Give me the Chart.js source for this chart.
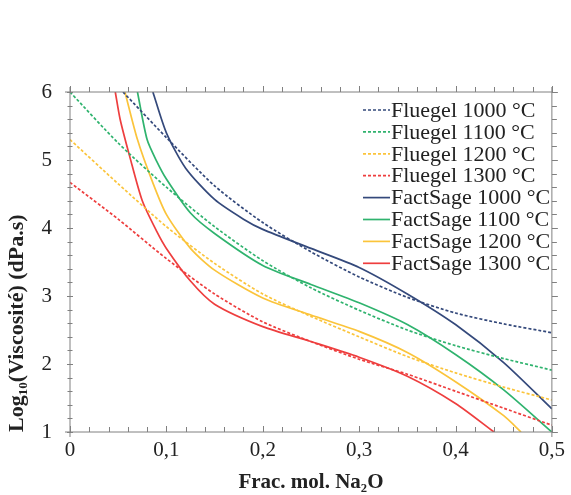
<!DOCTYPE html>
<html>
<head>
<meta charset="utf-8">
<script src="https://cdn.jsdelivr.net/npm/chart.js@4/dist/chart.umd.min.js"></script>
<style>
  html, body { margin: 0; padding: 0; background: #fff; }
  #wrap { width: 571px; height: 495px; }
</style>
</head>
<body>
<div id="wrap"><canvas id="viscoChart" width="571" height="495"></canvas></div>
<script>
// ---------- Data ----------
const xFull = [0, 0.05, 0.1, 0.15, 0.2, 0.25, 0.3, 0.35, 0.4, 0.45, 0.5];

const xFluegel1000 = [0.055, 0.1, 0.15, 0.2, 0.25, 0.3, 0.35, 0.4, 0.45, 0.5];
const fluegel1000 = [6, 5.33, 4.62, 4.08, 3.65, 3.28, 2.98, 2.75, 2.59, 2.46];
const fluegel1100 = [6, 5.25, 4.6, 4.02, 3.52, 3.12, 2.79, 2.5, 2.27, 2.08, 1.91];
const fluegel1200 = [5.3, 4.65, 4.02, 3.48, 3.03, 2.7, 2.4, 2.11, 1.87, 1.66, 1.47];
const fluegel1300 = [4.67, 4.13, 3.55, 3.03, 2.62, 2.33, 2.07, 1.85, 1.6, 1.35, 1.1];

const xFact1000 = [0.086, 0.1, 0.12, 0.15, 0.18, 0.2, 0.25, 0.3, 0.35, 0.4, 0.45, 0.5];
const factSage1000 = [6, 5.4, 4.88, 4.42, 4.13, 3.98, 3.7, 3.42, 3.03, 2.58, 2.02, 1.34];
const xFact1100 = [0.07, 0.08, 0.09, 0.1, 0.125, 0.15, 0.2, 0.25, 0.3, 0.35, 0.4, 0.45, 0.5];
const factSage1100 = [6, 5.3, 4.98, 4.72, 4.22, 3.92, 3.45, 3.17, 2.9, 2.58, 2.14, 1.62, 1.0];
const xFact1200 = [0.057, 0.07, 0.085, 0.1, 0.125, 0.15, 0.2, 0.25, 0.3, 0.35, 0.4, 0.45, 0.468];
const factSage1200 = [6, 5.3, 4.7, 4.2, 3.7, 3.38, 2.97, 2.72, 2.48, 2.17, 1.74, 1.24, 1.0];
const xFact1300 = [0.047, 0.052, 0.062, 0.075, 0.09, 0.1, 0.125, 0.15, 0.2, 0.25, 0.3, 0.35, 0.4, 0.44];
const factSage1300 = [6, 5.6, 5.05, 4.4, 3.95, 3.7, 3.22, 2.88, 2.55, 2.33, 2.1, 1.82, 1.42, 1.0];

const seriesLabels = [
    'Fluegel 1000 °C', 'Fluegel 1100 °C', 'Fluegel 1200 °C', 'Fluegel 1300 °C',
    'FactSage 1000 °C', 'FactSage 1100 °C', 'FactSage 1200 °C', 'FactSage 1300 °C'
];
const xTickLabels = ['0', '0,1', '0,2', '0,3', '0,4', '0,5'];

// ---------- Styles ----------
const BLUE = '#34497b';
const GREEN = '#2fb36e';
const YELLOW = '#fbc43b';
const RED = '#ee3e3e';
const SERIF = '"Liberation Serif", "Times New Roman", serif';
const AXIS_COLOR = '#808080';

function pts(xs, ys) {
    return xs.map((x, i) => ({ x: x, y: ys[i] }));
}

function line(label, xs, ys, color, dashed) {
    return {
        label: label,
        data: pts(xs, ys),
        borderColor: color,
        backgroundColor: color,
        borderWidth: 1.7,
        borderDash: dashed ? [3, 2] : [],
        pointRadius: 0,
        tension: 0.25,
        fill: false
    };
}

// ---------- Frame with mirrored ticks ----------
const framePlugin = {
    id: 'frame',
    afterDraw(chart) {
        const ctx = chart.ctx;
        const a = chart.chartArea;
        const xs = chart.scales.x;
        const ys = chart.scales.y;
        ctx.save();
        ctx.strokeStyle = AXIS_COLOR;
        ctx.lineWidth = 1;
        ctx.beginPath();
        ctx.moveTo(a.left - 5, a.top); ctx.lineTo(a.right, a.top);
        ctx.moveTo(a.left - 5, a.bottom); ctx.lineTo(a.right, a.bottom);
        ctx.moveTo(a.left, a.top - 5); ctx.lineTo(a.left, a.bottom + 5);
        ctx.moveTo(a.right, a.top - 5); ctx.lineTo(a.right, a.bottom + 5);

        for (let i = 0; i <= 25; i++) {
            const px = Math.round(xs.getPixelForValue(i * 0.02)) + 0.5;
            const len = i % 5 === 0 ? 6 : 5;
            ctx.moveTo(px, a.top); ctx.lineTo(px, a.top - len);
            ctx.moveTo(px, a.bottom); ctx.lineTo(px, a.bottom - len);
        }
        for (let i = 0; i <= 25; i++) {
            const py = Math.round(ys.getPixelForValue(1 + i * 0.2)) + 0.5;
            const len = i % 5 === 0 ? 6 : 5;
            ctx.moveTo(a.left - len / 2, py); ctx.lineTo(a.left + len / 2, py);
            ctx.moveTo(a.right, py); ctx.lineTo(a.right + len, py);
        }
        ctx.stroke();
        ctx.restore();
    }
};

// ---------- Legend inside the plot ----------
const legendPlugin = {
    id: 'innerLegend',
    afterDatasetsDraw(chart) {
        const ctx = chart.ctx;
        const x0 = 363, x1 = 390, top = 110, step = 21.9;
        ctx.save();
        ctx.font = '22px ' + SERIF;
        ctx.textBaseline = 'middle';
        ctx.textAlign = 'left';
        chart.data.datasets.forEach((ds, i) => {
            const y = top + i * step;
            ctx.strokeStyle = ds.borderColor;
            ctx.lineWidth = 1.7;
            ctx.setLineDash(ds.borderDash);
            ctx.beginPath();
            ctx.moveTo(x0, y);
            ctx.lineTo(x1, y);
            ctx.stroke();
            ctx.setLineDash([]);
            ctx.fillStyle = '#222';
            ctx.fillText(ds.label, x1 + 1, y + 1);
        });
        ctx.restore();
    }
};

const ctx = document.getElementById('viscoChart').getContext('2d');

new Chart(ctx, {
    type: 'line',
    data: {
        datasets: [
            line(seriesLabels[0], xFluegel1000, fluegel1000, BLUE, true),
            line(seriesLabels[1], xFull, fluegel1100, GREEN, true),
            line(seriesLabels[2], xFull, fluegel1200, YELLOW, true),
            line(seriesLabels[3], xFull, fluegel1300, RED, true),
            line(seriesLabels[4], xFact1000, factSage1000, BLUE, false),
            line(seriesLabels[5], xFact1100, factSage1100, GREEN, false),
            line(seriesLabels[6], xFact1200, factSage1200, YELLOW, false),
            line(seriesLabels[7], xFact1300, factSage1300, RED, false)
        ]
    },
    options: {
        responsive: false,
        animation: false,
        layout: { padding: { top: 92, right: 15, left: 0, bottom: 0 } },
        plugins: {
            legend: { display: false },
            tooltip: { enabled: false }
        },
        scales: {
            x: {
                type: 'linear',
                min: 0,
                max: 0.5,
                grid: { display: false, drawTicks: false },
                border: { display: false },
                afterFit: s => { s.height = 63; },
                ticks: {
                    stepSize: 0.1,
                    padding: 6,
                    color: '#222',
                    font: { family: SERIF, size: 21 },
                    maxRotation: 0,
                    callback: (v) => xTickLabels[Math.round(v * 10)]
                },
                title: {
                    display: true,
                    text: 'Frac. mol. Na₂O',
                    color: '#222',
                    padding: { top: 0, bottom: 0 },
                    font: { family: SERIF, size: 21, weight: 'bold' }
                }
            },
            y: {
                min: 1,
                max: 6,
                grid: { display: false, drawTicks: false },
                border: { display: false },
                afterFit: s => { s.width = 70; },
                ticks: {
                    stepSize: 1,
                    padding: 18,
                    color: '#222',
                    font: { family: SERIF, size: 21 }
                },
                title: {
                    display: true,
                    text: 'Log₁₀(Viscosité) (dPa.s)',
                    align: 'start',
                    color: '#222',
                    padding: { top: 4, bottom: 0 },
                    font: { family: SERIF, size: 22, weight: 'bold' }
                }
            }
        }
    },
    plugins: [framePlugin, legendPlugin]
});
</script>
</body>
</html>
